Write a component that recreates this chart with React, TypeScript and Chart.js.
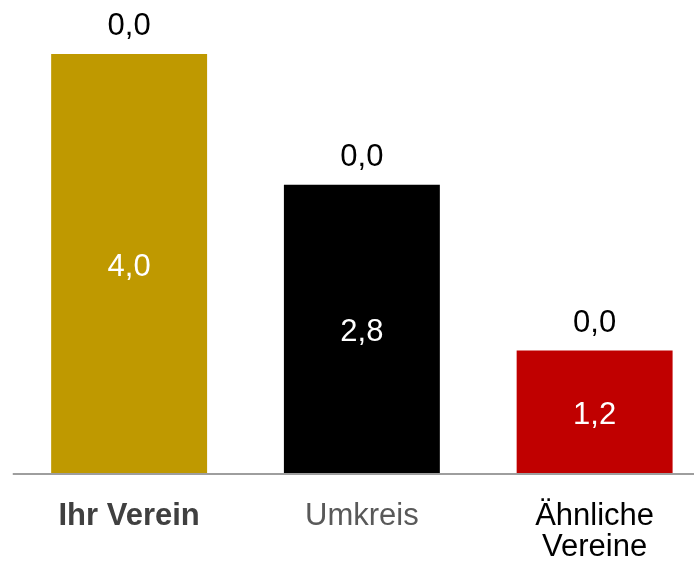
import React, { useEffect, useRef } from "react";
import { Chart, registerables } from "chart.js";

Chart.register(...registerables);

// ---- data ----
const categories: (string | string[])[] = ["Ihr Verein", "Umkreis", ["Ähnliche", "Vereine"]];
const mainValues: number[] = [4.04, 2.78, 1.18];
const topValues: number[] = [0, 0, 0];

// ---- styling ----
const barColors = ["#BF9900", "#000000", "#C00000"];
const categoryLabelColors = ["#404040", "#595959", "#000000"];
const categoryLabelWeights = ["bold", "normal", "normal"];
const FONT = "'Liberation Sans', Arial, Helvetica, sans-serif";
const AXIS_COLOR = "#9E9E9E";

const fmt = (v: number) => v.toFixed(1).replace(".", ",");

const axisLinePlugin = {
  id: "axisLine",
  beforeDatasetsDraw(chart: any) {
    const { ctx, chartArea } = chart;
    ctx.save();
    ctx.strokeStyle = AXIS_COLOR;
    ctx.lineWidth = 2;
    ctx.beginPath();
    ctx.moveTo(chartArea.left, chartArea.bottom + 1);
    ctx.lineTo(chartArea.right, chartArea.bottom + 1);
    ctx.stroke();
    ctx.restore();
  },
};

const valueLabelPlugin = {
  id: "valueLabels",
  afterDatasetsDraw(chart: any) {
    const ctx = chart.ctx as CanvasRenderingContext2D;
    const metaMain = chart.getDatasetMeta(0);
    const metaTop = chart.getDatasetMeta(1);
    ctx.save();
    ctx.font = `31px ${FONT}`;
    ctx.textAlign = "center";
    ctx.textBaseline = "alphabetic";
    metaMain.data.forEach((bar: any, i: number) => {
      const { x, y, base } = bar.getProps(["x", "y", "base"], true);
      ctx.fillStyle = "#FFFFFF";
      ctx.fillText(fmt(mainValues[i]), x, (y + base) / 2 + 12);
    });
    metaTop.data.forEach((bar: any, i: number) => {
      const { x, y } = bar.getProps(["x", "y"], true);
      ctx.fillStyle = "#000000";
      ctx.fillText(fmt(topValues[i]), x, y - 19);
    });
    ctx.restore();
  },
};

export default function App() {
  const canvasRef = useRef<HTMLCanvasElement | null>(null);

  useEffect(() => {
    if (!canvasRef.current) return;
    const chart = new Chart(canvasRef.current, {
      type: "bar",
      data: {
        labels: categories as any,
        datasets: [
          {
            data: mainValues,
            backgroundColor: barColors,
            borderWidth: 0,
          },
          {
            data: topValues,
            backgroundColor: barColors,
            borderWidth: 0,
          },
        ],
      },
      options: {
        responsive: false,
        animation: false,
        events: [],
        layout: { padding: { left: 12.75, right: 0, top: 6.3, bottom: 0 } },
        datasets: {
          bar: { barPercentage: 0.67, categoryPercentage: 1 },
        },
        plugins: {
          legend: { display: false },
          tooltip: { enabled: false },
        },
        scales: {
          x: {
            stacked: true,
            grid: { display: false, drawTicks: false },
            border: { display: false },
            ticks: {
              padding: 27,
              autoSkip: false,
              maxRotation: 0,
              color: (c: any) => categoryLabelColors[c.index],
              font: (c: any) => ({
                family: FONT,
                size: 31,
                weight: categoryLabelWeights[c.index] as any,
                lineHeight: 1.03,
              }),
            },
            afterFit: (s: any) => {
              s.height = 95;
            },
          },
          y: {
            display: false,
            stacked: true,
            min: 0,
            max: 4.5,
          },
        },
      },
      plugins: [axisLinePlugin, valueLabelPlugin],
    });
    return () => chart.destroy();
  }, []);

  return (
    <div
      style={{
        position: "fixed",
        left: 0,
        top: 0,
        width: 694,
        height: 568,
        overflow: "hidden",
        background: "#FFFFFF",
      }}
    >
      <canvas ref={canvasRef} width={711} height={568} style={{ display: "block" }} />
    </div>
  );
}
